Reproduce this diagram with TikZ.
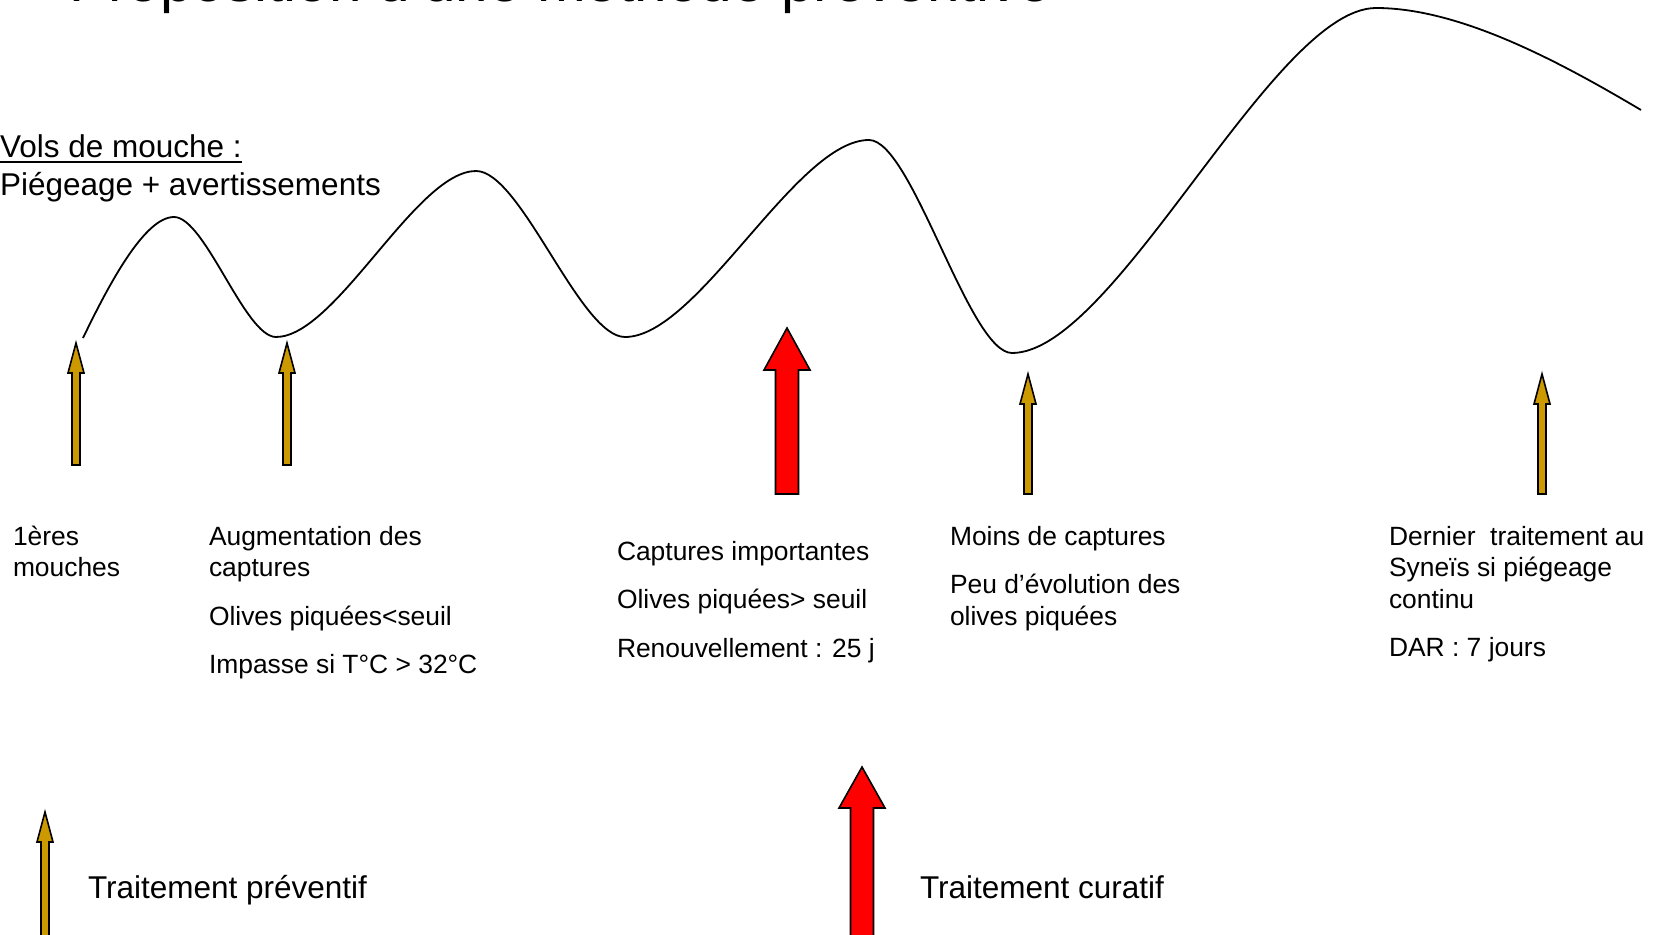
\documentclass[tikz,border=0pt]{standalone}
\usepackage{fontspec}
\setmainfont{Liberation Sans}
\definecolor{gold}{HTML}{CC9900}
\definecolor{redarrow}{HTML}{FF0000}
\tikzset{
  body/.style={anchor=base west,inner sep=0pt,outer sep=0pt,font=\fontsize{26.4}{31.7}\selectfont},
  big/.style={anchor=base west,inner sep=0pt,outer sep=0pt,font=\fontsize{31.5}{37.8}\selectfont},
  titlefont/.style={anchor=base west,inner sep=0pt,outer sep=0pt,font=\fontsize{58.5}{70}\selectfont},
  curve/.style={draw=black,line width=1.8pt},
  arrowbody/.style={draw=black,line width=1.6pt,line join=miter}
}
% \myblockarrow{x}{tip y}{head base y}{bottom y}{head half width}{shaft half width}{fill}
\newcommand{\myblockarrow}[7]{%
  \filldraw[arrowbody,fill=#7] (#1,#2) -- (#1+#5,#3) -- (#1+#6,#3) -- (#1+#6,#4)
    -- (#1-#6,#4) -- (#1-#6,#3) -- (#1-#5,#3) -- cycle;}
\begin{document}
\begin{tikzpicture}[x=1pt,y=-1pt]
\useasboundingbox (0,0) rectangle (1653,934);
\clip (0,0) rectangle (1653,934);
\fill[white] (0,0) rectangle (1653,934);

% title (cut at top)
\node[titlefont] (title) at (69,2) {Proposition d’une méthode préventive};

% population curve
\coordinate (c0) at (83,338);
\coordinate (p1) at (174,217);
\coordinate (v1) at (276,337);
\coordinate (p2) at (476,171);
\coordinate (v2) at (625,337);
\coordinate (p3) at (869,140);
\coordinate (v3) at (1012,353);
\coordinate (p4) at (1376,8);
\coordinate (c9) at (1641,110);
\draw[curve] (c0) .. controls (110,282) and (145,217) .. (p1)
  .. controls (205,217) and (245,337) .. (v1)
  .. controls (336,337) and (416,171) .. (p2)
  .. controls (521,171) and (580,337) .. (v2)
  .. controls (698,337) and (796,140) .. (p3)
  .. controls (912,140) and (969,353) .. (v3)
  .. controls (1115,353) and (1273,8) .. (p4)
  .. controls (1460,8) and (1560,62) .. (c9);

% left label
\node[big] (vols) at (0,157) {Vols de mouche :};
\draw[line width=2.2pt] ([yshift=-5pt]vols.base west) -- ([yshift=-5pt]vols.base east);
\node[big] (piege) at (0,195) {Piégeage + avertissements};

% arrows on timeline
\myblockarrow{76}{343}{373}{465}{8}{4}{gold}
\myblockarrow{287}{343}{373}{465}{8}{4}{gold}
\myblockarrow{787}{328}{370}{494}{23}{11.5}{redarrow}
\myblockarrow{1028}{374}{404}{494}{8}{4}{gold}
\myblockarrow{1542}{374}{404}{494}{8}{4}{gold}

% texts
\node[body] (t1a) at (13,545) {1ères};
\node[body] (t1b) at (13,576.6) {mouches};

\node[body] (t2a) at (209,545) {Augmentation des};
\node[body] (t2b) at (209,576.6) {captures};
\node[body] (t2c) at (209,625) {Olives piquées<seuil};
\node[body] (t2d) at (209,673.5) {Impasse si T°C > 32°C};

\node[body] (t3a) at (617,560) {Captures importantes};
\node[body] (t3b) at (617,608.5) {Olives piquées> seuil};
\node[body] (t3c) at (617,657) {Renouvellement : 25 j};

\node[body] (t4a) at (950,545) {Moins de captures};
\node[body] (t4b) at (950,593.5) {Peu d’évolution des};
\node[body] (t4c) at (950,625) {olives piquées};

\node[body] (t5a) at (1389,545) {Dernier\ \ traitement au};
\node[body] (t5b) at (1389,576.6) {Syneïs si piégeage};
\node[body] (t5c) at (1389,608.2) {continu};
\node[body] (t5d) at (1389,656.7) {DAR : 7 jours};

% legend
\myblockarrow{45}{812}{842}{960}{8}{4}{gold}
\node[big] (lg1) at (88,898) {Traitement préventif};
\myblockarrow{862}{767}{808}{960}{23}{11.5}{redarrow}
\node[big] (lg2) at (920,898) {Traitement curatif};
\end{tikzpicture}
\end{document}
